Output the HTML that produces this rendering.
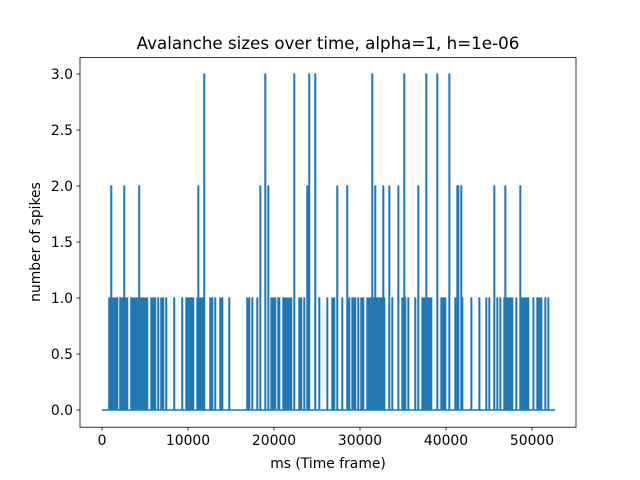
<!DOCTYPE html>
<html><head><meta charset="utf-8"><style>body{margin:0;background:#fff}svg{display:block;font-family:"DejaVu Sans","Liberation Sans",sans-serif}</style></head>
<body>
<svg id="c" width="640" height="480"></svg>
<script>
const ones=[810,930,1160,1400,1630,1750,2090,2210,2440,2680,2910,3370,3490,3720,3950,4190,4540,4770,5000,5230,5700,5930,6160,6510,6860,7090,7440,8370,9300,9770,10000,10230,10350,10580,11050,11400,11630,12560,12790,13140,13720,13960,14770,16860,17100,17450,18030,19660,19890,20120,20470,20590,21050,21280,21520,21750,21980,22910,23140,23490,25240,26170,26750,26980,27330,27910,28490,28730,29080,29190,29420,29770,30120,30350,30820,31050,31290,31520,31750,31980,32220,32450,32800,33380,33730,34890,35240,35590,36400,36750,37220,37450,37800,38030,38260,39430,39660,39890,41050,41400,41870,42920,43850,44660,45010,45940,46290,46750,46990,47220,47450,47680,48150,48610,48850,49080,49310,49540,50130,50590,50820,51060,51520,51870];
const twos=[1050,2560,4300,11170,18380,19310,23840,27330,28490,31750,32680,33380,34430,36750,41290,41400,41750,45590,46870,48610];
const threes=[11860,18960,22330,24070,24770,31400,35120,37680,38960,40360];
const xTicks=[0,10000,20000,30000,40000,50000];
const yTicks=[0,0.5,1,1.5,2,2.5,3];
const tEnd=52700;
const X=v=>102+v*0.0086, Y=v=>410-v*112;
const svg=document.getElementById('c');const NS='http://www.w3.org/2000/svg';
function mk(t,a,p){const e=document.createElementNS(NS,t);for(const k in a)e.setAttribute(k,a[k]);(p||svg).appendChild(e);return e;}
mk('rect',{x:80,y:57.6,width:496,height:369.6,fill:'#fff',stroke:'#000','stroke-width':0.8});
let ev=[];ones.forEach(t=>ev.push([t,1]));twos.forEach(t=>ev.push([t,2]));threes.forEach(t=>ev.push([t,3]));ev.sort((a,b)=>a[0]-b[0]);
let d='M'+X(0)+','+Y(0);
ev.forEach(([t,h])=>{d+=' L'+X(t)+','+Y(0)+' L'+X(t)+','+Y(h)+' L'+X(t+60)+','+Y(h)+' L'+X(t+60)+','+Y(0);});
d+=' L'+X(tEnd)+','+Y(0);
const ln=mk('path',{d:d,fill:'none',stroke:'#1f77b4','stroke-width':1.5,'stroke-linejoin':'round'});


xTicks.forEach(v=>{mk('line',{x1:X(v),x2:X(v),y1:427.2,y2:430.7,stroke:'#000','stroke-width':0.8});
const t=mk('text',{x:X(v),y:445,'text-anchor':'middle','font-size':13.9});t.textContent=v;
});
yTicks.forEach(v=>{mk('line',{x1:76.5,x2:80,y1:Y(v),y2:Y(v),stroke:'#000','stroke-width':0.8});
const t=mk('text',{x:73,y:Y(v)+5,'text-anchor':'end','font-size':13.9});t.textContent=v.toFixed(1);
});
let t=mk('text',{x:328,y:468,'text-anchor':'middle','font-size':13.9});t.textContent='ms (Time frame)';
t=mk('text',{x:40,y:242,'text-anchor':'middle','font-size':13.9,transform:'rotate(-90 40 242)'});t.textContent='number of spikes';
t=mk('text',{x:328,y:49,'text-anchor':'middle','font-size':16.7});t.textContent='Avalanche sizes over time, alpha=1, h=1e-06';
</script>
</body></html>
